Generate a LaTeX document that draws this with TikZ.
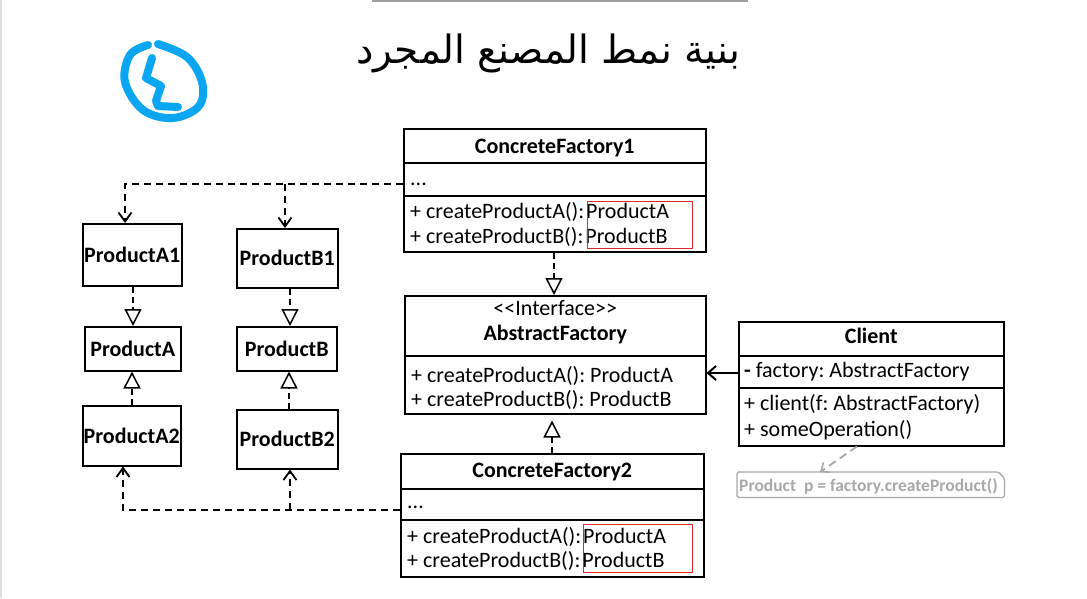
\documentclass[tikz,border=0pt]{standalone}
\usepackage{fontspec}
\setmainfont{Carlito}
\newfontfamily\arabicfont[Script=Arabic]{DejaVu Sans}
\TeXXeTstate=1
\usetikzlibrary{arrows.meta}
\definecolor{umlred}{HTML}{E02828}
\definecolor{notegray}{HTML}{A8A8A8}
\definecolor{penblue}{HTML}{0AA6F2}
\tikzset{
  umlbox/.style={draw, line width=1.5pt, anchor=north west, inner sep=0pt},
  prodbox/.style={umlbox, font=\bfseries\fontsize{22}{26}\selectfont},
  ttl/.style={font=\bfseries\fontsize{22}{26}\selectfont, anchor=base, inner sep=0pt},
  txt/.style={font=\fontsize{22}{26}\selectfont, anchor=base west, inner sep=0pt},
  divider/.style={line width=1.5pt},
  redbox/.style={draw=umlred, line width=1.2pt, anchor=north west, inner sep=0pt},
  dep/.style={line width=2pt, dash pattern=on 7pt off 5pt},
  deparrow/.style={dep, -{Straight Barb[length=9pt,width=13pt,line width=1.8pt]}},
  real/.style={line width=2pt, dash pattern=on 6pt off 4pt, -{Triangle[open,length=17pt,width=17pt,line width=1.5pt,fill=white]}},
  assoc/.style={line width=2pt, -{Straight Barb[length=8pt,width=14pt,line width=2pt]}},
}
\begin{document}
\frenchspacing
\begin{tikzpicture}[x=1pt,y=-1pt]
\useasboundingbox (0,0) rectangle (1087,598);
\fill[white] (0,0) rectangle (1087,598);
\draw[gray!75, line width=2pt] (372,0.8) -- (748,0.8);
\draw[gray!25, line width=1.5pt] (0.8,0) -- (0.8,598);

% title
\node[font=\arabicfont\fontsize{39}{44}\selectfont, anchor=base, inner sep=0pt] (title) at (548,63) {\beginR بنية نمط المصنع المجرد\endR};

% blue scribble
\draw[penblue, line width=8pt, line cap=round, line join=round]
  plot[smooth, tension=0.6] coordinates {(158,44) (187,57) (202,82) (199,106) (173,118) (143,110) (125,82) (130,55) (148,45)};
\draw[penblue, line width=8pt, line cap=round, line join=round]
  (152,58) -- (146,78) -- (161,86) -- (156,101) -- (158,106) -- (178,107);

% ConcreteFactory1
\node[umlbox, minimum width=302, minimum height=123] (cf1) at (403,128) {};
\node[ttl] (cf1t) at (cf1.north |- 0,153) {ConcreteFactory1};
\draw[divider] (cf1.west |- 0,163) -- (cf1.east |- 0,163);
\node[txt] (cf1d) at (410,185) {...};
\draw[divider] (cf1.west |- 0,196) -- (cf1.east |- 0,196);
\node[txt] (cf1m1) at (410,218) {+ createProductA():\hspace{2pt}ProductA};
\node[txt] (cf1m2) at (410,243) {+ createProductB():\hspace{2pt}ProductB};
\node[redbox, minimum width=105, minimum height=47] (cf1r) at (587,201) {};

% AbstractFactory
\node[umlbox, minimum width=301, minimum height=118] (af) at (404,295) {};
\node[txt, anchor=base] (afs) at (af.north |- 0,315) {{<}{<}Interface{>}{>}};
\node[ttl] (aft) at (af.north |- 0,340) {AbstractFactory};
\draw[divider] (af.west |- 0,356) -- (af.east |- 0,356);
\node[txt] (afm1) at (411,382) {+ createProductA(): ProductA};
\node[txt] (afm2) at (411,406) {+ createProductB(): ProductB};

% ConcreteFactory2
\node[umlbox, minimum width=303, minimum height=123] (cf2) at (400,453) {};
\node[ttl] (cf2t) at (cf2.north |- 0,477) {ConcreteFactory2};
\draw[divider] (cf2.west |- 0,489) -- (cf2.east |- 0,489);
\node[txt] (cf2d) at (407,508) {...};
\draw[divider] (cf2.west |- 0,520) -- (cf2.east |- 0,520);
\node[txt] (cf2m1) at (407,543) {+ createProductA():\hspace{2pt}ProductA};
\node[txt] (cf2m2) at (407,567) {+ createProductB():\hspace{2pt}ProductB};
\node[redbox, minimum width=109, minimum height=48] (cf2r) at (583,524) {};

% Client
\node[umlbox, minimum width=265, minimum height=124] (client) at (738,321) {};
\node[ttl] (clt) at (client.north |- 0,343) {Client};
\draw[divider] (client.west |- 0,356) -- (client.east |- 0,356);
\node[txt] (clf) at (744,377) {\textbf{-} factory: AbstractFactory};
\draw[divider] (client.west |- 0,388) -- (client.east |- 0,388);
\node[txt] (clm1) at (744,410) {+ client(f: AbstractFactory)};
\node[txt] (clm2) at (744,436) {+ someOperation()};

% note
\node[anchor=north west, minimum width=267, minimum height=25, inner sep=0pt] (note) at (737,472) {};
\draw[notegray, line width=1.3pt, rounded corners=1.5pt] (note.north west) -- ([xshift=-6pt]note.north east) -- ([yshift=-6pt]note.north east) -- (note.south east) -- (note.south west) -- cycle;
\node[font=\bfseries\fontsize{17.5}{20}\selectfont, text=notegray, anchor=base west, inner sep=0pt] (notet) at (739,491) {Product\ \ p = factory.createProduct()};
\draw[notegray, line width=1.8pt, dash pattern=on 8pt off 5pt, -{Straight Barb[length=7pt,width=12pt,line width=1.6pt]}] (client.south -| 857,0) -- (note.north -| 820,0);

% products
\node[prodbox, minimum width=99, minimum height=62] (pa1) at (82,223) {ProductA1};
\node[prodbox, minimum width=96, minimum height=44] (pa) at (84,326) {ProductA};
\node[prodbox, minimum width=98, minimum height=60] (pa2) at (82,405) {ProductA2};
\node[prodbox, minimum width=101, minimum height=59] (pb1) at (236,228) {ProductB1};
\node[prodbox, minimum width=100, minimum height=44] (pb) at (236,326) {ProductB};
\node[prodbox, minimum width=101, minimum height=59] (pb2) at (236,409) {ProductB2};

% realizations
\draw[real] (pa1.south -| 133,0) -- (pa.north -| 133,0);
\draw[real] (pa2.north -| 132,0) -- (pa.south -| 132,0);
\draw[real] (pb1.south -| 290,0) -- (pb.north -| 290,0);
\draw[real] (pb2.north -| 289,0) -- (pb.south -| 289,0);
\draw[real] (cf1.south -| 554,0) -- (af.north -| 554,0);
\draw[real, shorten >=6pt] (cf2.north -| 552,0) -- (af.south -| 552,0);

% dependencies
\coordinate (t1) at (125,184);
\coordinate (t2) at (285,184);
\coordinate (b1) at (123,510);
\coordinate (b2) at (290,510);
\draw[deparrow] (cf1.west |- t1) -- (t1) -- (t1 |- pa1.north);
\draw[deparrow] (t2) -- (t2 |- pb1.north);
\draw[deparrow] (cf2.west |- b1) -- (b1) -- (b1 |- pa2.south);
\draw[deparrow] (b2) -- (b2 |- pb2.south);

% association
\draw[assoc] (client.west |- 0,373) -- (af.east |- 0,373);
\end{tikzpicture}
\end{document}
